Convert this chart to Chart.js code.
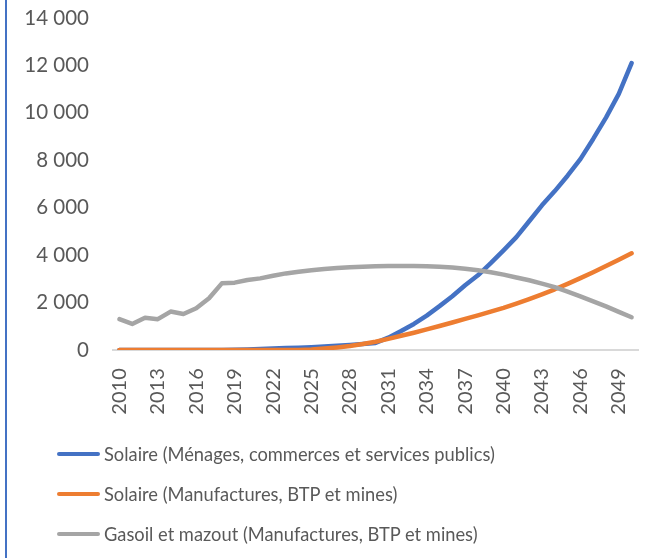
<!DOCTYPE html>
<html>
<head>
<meta charset="utf-8">
<script src="https://cdn.jsdelivr.net/npm/chart.js@4"></script>
<style>
  html, body { margin: 0; padding: 0; background: #fff; }
  #wrap { position: relative; width: 646px; height: 558px; overflow: hidden; }
  #frame { position: absolute; left: 5px; top: 0; width: 2px; height: 558px; background: #4472C4; }
  canvas { position: absolute; left: 0; top: 0; }
  #legende { position: absolute; left: 57px; top: 440px; font-family: Lato, sans-serif; font-size: 18.3px; color: #595959; }
  .item { display: flex; align-items: center; height: 28px; margin-bottom: 12px; white-space: nowrap; }
  .trait { display: inline-block; width: 43px; height: 4.5px; border-radius: 3px; margin-right: 4px; }
</style>
</head>
<body>
<div id="wrap">
  <canvas id="chart" width="646" height="558"></canvas>
  <div id="frame"></div>
  <div id="legende"></div>
</div>
<script>
// Années (axe X)
const annees = ['2010','2011','2012','2013','2014','2015','2016','2017','2018','2019',
  '2020','2021','2022','2023','2024','2025','2026','2027','2028','2029',
  '2030','2031','2032','2033','2034','2035','2036','2037','2038','2039',
  '2040','2041','2042','2043','2044','2045','2046','2047','2048','2049','2050'];

// Séries
const solaireMenages = [0,0,0,0,0,0,0,0,0,10,
  20,40,60,80,100,120,150,180,210,250,
  300,520,800,1100,1450,1850,2270,2730,3150,3660,
  4200,4760,5430,6100,6700,7350,8050,8900,9800,10800,12100];

const solaireManufactures = [0,0,0,0,0,0,0,0,0,0,
  0,0,0,0,0,20,60,110,170,250,
  350,470,600,730,870,1010,1160,1310,1460,1620,
  1780,1960,2150,2350,2560,2790,3030,3280,3540,3810,4080];

const gasoilMazout = [1300,1100,1360,1300,1620,1520,1760,2180,2810,2840,
  2950,3020,3130,3230,3300,3360,3420,3460,3490,3510,
  3530,3540,3545,3540,3530,3510,3480,3430,3360,3280,
  3180,3060,2940,2800,2650,2460,2260,2050,1840,1610,1380];

const ticksY = [0, 2000, 4000, 6000, 8000, 10000, 12000, 14000];

const libelles = [
  'Solaire (Ménages, commerces et services publics)',
  'Solaire (Manufactures, BTP et mines)',
  'Gasoil et mazout (Manufactures, BTP et mines)'
];
const couleurs = ['#4472C4', '#ED7D31', '#A5A5A5'];

// Format "14 000"
function formatMilliers(v) {
  return String(v).replace(/\B(?=(\d{3})+(?!\d))/g, ' ');
}

function serie(i, valeurs) {
  return {
    label: libelles[i],
    data: valeurs,
    borderColor: couleurs[i],
    backgroundColor: couleurs[i],
    borderWidth: 4.5,
    borderCapStyle: 'round',
    borderJoinStyle: 'round',
    pointRadius: 0,
    tension: 0,
    order: 3 - i // la dernière série est dessinée au-dessus
  };
}

const ctx = document.getElementById('chart').getContext('2d');
const chart = new Chart(ctx, {
  type: 'line',
  data: {
    labels: annees,
    datasets: [
      serie(0, solaireMenages),
      serie(1, solaireManufactures),
      serie(2, gasoilMazout)
    ]
  },
  options: {
    responsive: false,
    animation: false,
    layout: { padding: { top: 0, right: 8, left: 0, bottom: 136 } },
    plugins: {
      tooltip: { enabled: false },
      legend: { display: false }
    },
    scales: {
      x: {
        offset: true,
        grid: { display: false, drawTicks: false },
        border: { display: true, color: '#D9D9D9', width: 2 },
        afterFit: function(scale) {
          scale.height = 72;
          scale.paddingLeft = 0;
          scale.paddingRight = 0;
        },
        ticks: {
          autoSkip: false,
          maxRotation: 90,
          minRotation: 90,
          padding: 8,
          color: '#595959',
          font: { family: 'Lato', size: 20 },
          // une année sur trois ; les espaces éloignent le texte de l'axe
          callback: function(val, index) {
            return index % 3 === 0 ? annees[index] + '  ' : '';
          }
        }
      },
      y: {
        min: 0,
        max: 14000,
        grid: { display: false, drawTicks: false },
        border: { display: false },
        afterFit: function(scale) {
          scale.width = 113;
          scale.paddingTop = 18;
          scale.paddingBottom = 12;
        },
        afterBuildTicks: function(scale) {
          scale.ticks = ticksY.map(v => ({ value: v }));
        },
        ticks: {
          padding: 24,
          color: '#595959',
          font: { family: 'Lato', size: 20.5 },
          callback: v => formatMilliers(v)
        }
      }
    }
  }
});

// Légende en HTML, construite à partir des libellés
const legende = document.getElementById('legende');
libelles.forEach((txt, i) => {
  legende.innerHTML += `<div class="item"><span class="trait" style="background:${couleurs[i]}"></span>${txt}</div>`;
});
</script>
</body>
</html>
